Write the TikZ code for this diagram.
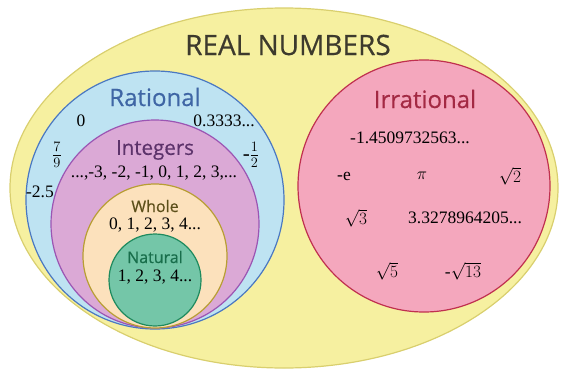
\documentclass[tikz,border=0pt]{standalone}
\usepackage{amsmath}
\usepackage{fontspec}
\setmainfont{Liberation Serif}
\newfontfamily\labelfont[FakeBold=0.5]{Open Sans}
\usepackage{tikz}
\usetikzlibrary{positioning}

\definecolor{realfill}{HTML}{F6F0A0}
\definecolor{realline}{HTML}{D9CF6E}
\definecolor{ratfill}{HTML}{BEE3F2}
\definecolor{ratline}{HTML}{4A78C2}
\definecolor{intfill}{HTML}{DBA9D6}
\definecolor{intline}{HTML}{9B55B3}
\definecolor{wholefill}{HTML}{FCE1BC}
\definecolor{wholeline}{HTML}{B89E34}
\definecolor{natfill}{HTML}{74C6A8}
\definecolor{natline}{HTML}{1E8A5E}
\definecolor{irrfill}{HTML}{F4A7BD}
\definecolor{irrline}{HTML}{C0304F}

\newcommand{\titlesize}[1]{\labelfont\fontsize{#1}{#1}\selectfont}

\begin{document}
\begin{tikzpicture}[x=1pt, y=-1pt,
  setline/.style={line width=1.2pt},
  title/.style={inner sep=0pt},
  num/.style={font=\fontsize{17.5}{18}\selectfont, inner sep=0pt},
  frac/.style={font=\fontsize{21}{22}\selectfont, inner sep=0pt}]
\useasboundingbox (0,0) rectangle (561,369);
% sets
\draw[setline, realline, fill=realfill] (284,188) ellipse (274 and 180);
\draw[setline, ratline, fill=ratfill] (155,200) circle (129);
\draw[setline, intline, fill=intfill] (155,224) circle (104);
\draw[setline, wholeline, fill=wholefill] (155,256) circle (72);
\draw[setline, natline, fill=natfill] (155,280) circle (46);
\draw[setline, irrline, fill=irrfill] (424,186) circle (126);
% titles
\node[title, font=\titlesize{28}, text=black!75!olive] (real) at (288,45) {REAL NUMBERS};
\node[title, font=\titlesize{24}, text=ratline!85!black] (rat) at (155,97) {Rational};
\node[title, font=\titlesize{20.5}, text=intline!60!black] (int) at (155,150) {Integers};
\node[title, font=\titlesize{16}, text=wholeline!50!black] (whole) at (155,206) {Whole};
\node[title, font=\titlesize{16}, text=natline!80!black] (nat) at (155,257) {Natural};
\node[title, font=\titlesize{24}, text=irrline!85!black] (irr) at (425,99) {Irrational};
% rational numbers
\node[num] (zero) at (81,121) {0};
\node[num] (third) at (224,121) {0.3333...};
\node[frac] (sevenninths) at (57,155) {$\frac{7}{9}$};
\node[frac] (half) at (251,155) {-$\frac{1}{2}$};
\node[num] (twofive) at (40,192) {-2.5};
\node[num] (intlist) at (154,173) {...,-3, -2, -1, 0, 1, 2, 3,...};
\node[num] (wholelist) at (155,225) {0, 1, 2, 3, 4...};
\node[num] (natlist) at (155,277) {1, 2, 3, 4...};
% irrational numbers
\node[num] (irra) at (410,138) {-1.4509732563...};
\node[num] (mine) at (344,176) {-e};
\node[num] (pi) at (422,176) {$\pi$};
\node[num] (rttwo) at (510,176) {$\sqrt{2}$};
\node[num] (rtthree) at (356,218) {$\sqrt{3}$};
\node[num] (irrb) at (465,218) {3.3278964205...};
\node[num] (rtfive) at (387,271) {$\sqrt{5}$};
\node[num] (rtthirteen) at (463,271) {-$\sqrt{13}$};
\end{tikzpicture}
\end{document}
